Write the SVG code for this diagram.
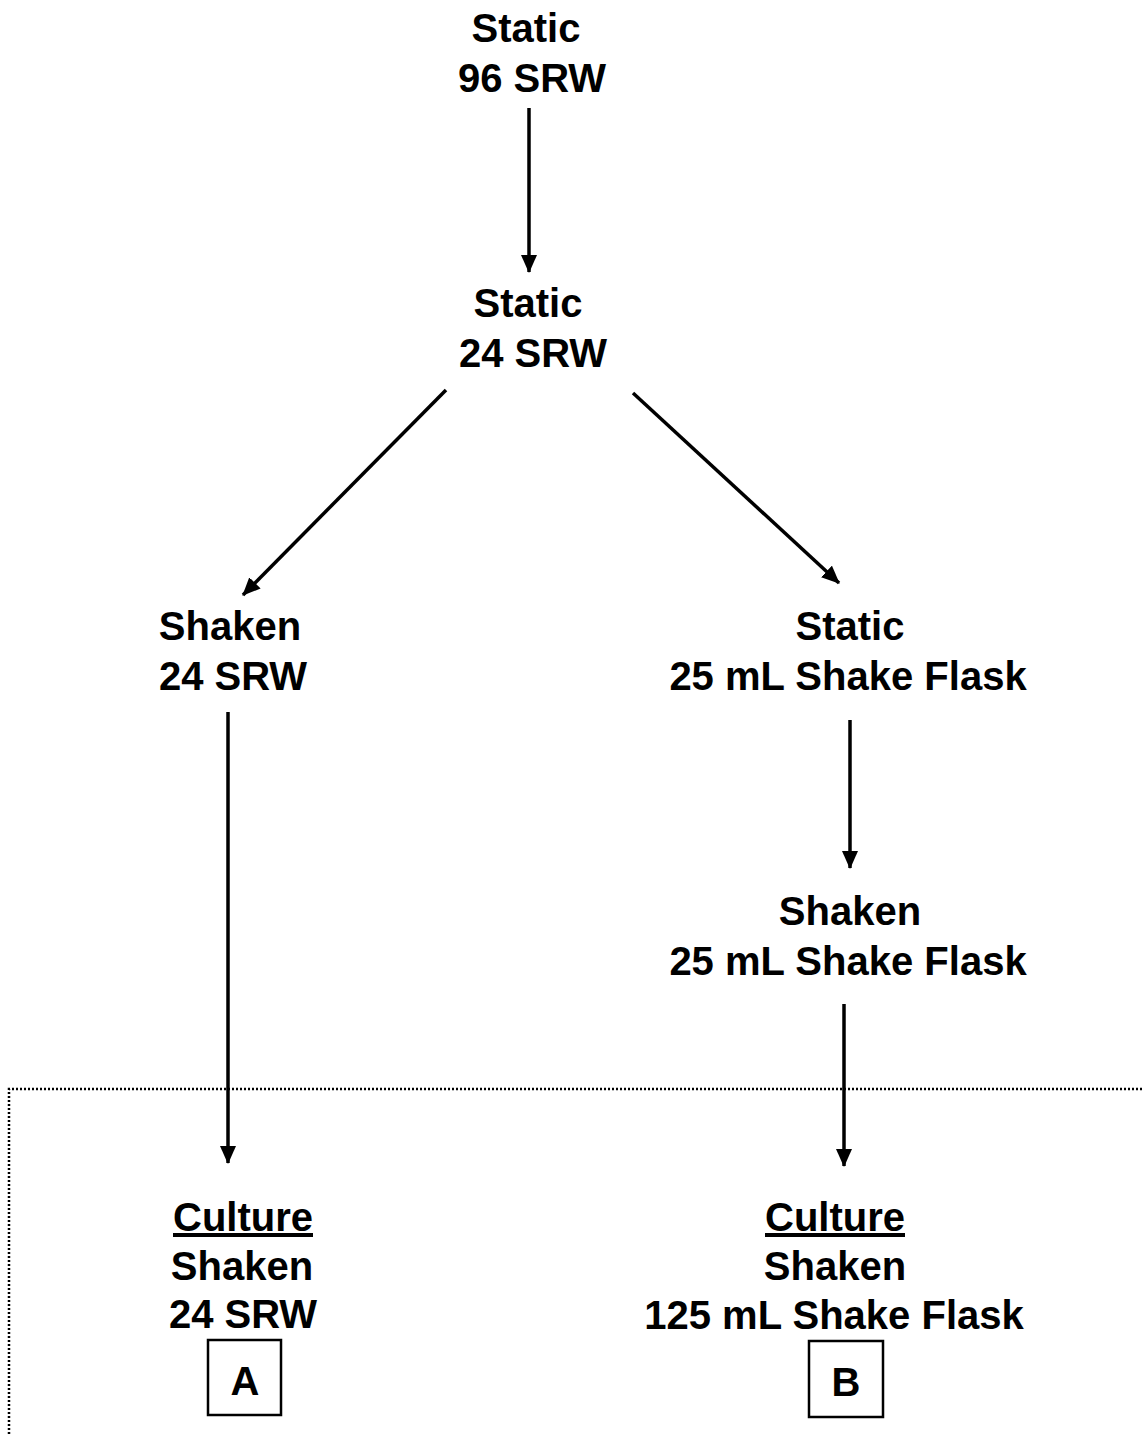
<svg xmlns="http://www.w3.org/2000/svg" width="1144" height="1434" viewBox="0 0 1144 1434">
  <defs>
    <marker id="arrow" markerWidth="18" markerHeight="16" refX="17" refY="8" orient="auto" markerUnits="userSpaceOnUse">
      <path d="M0,0 L18,8 L0,16 Z" fill="#000"/>
    </marker>
  </defs>
  <style>
    .lbl { font-family: "Liberation Sans", Arial, sans-serif; font-size: 40px; font-weight: bold; fill: #000; text-anchor: middle; }
    .u { text-decoration: underline; }
    .edge { stroke: #000; stroke-width: 3.5; fill: none; marker-end: url(#arrow); }
    .box { fill: none; stroke: #000; stroke-width: 2.5; }
    .region { fill: none; stroke: #000; stroke-width: 2.5; stroke-dasharray: 2 2; }
  </style>
  <rect width="1144" height="1434" fill="#fff"/>

  <!-- culture region outline (dotted) -->
  <path class="region" d="M9,1434 V1089 H1144"/>

  <g id="connectors">
    <line class="edge" x1="529" y1="108" x2="529" y2="272"/>
    <line class="edge" x1="446" y1="390" x2="243" y2="595"/>
    <line class="edge" x1="633" y1="393" x2="839" y2="583"/>
    <line class="edge" x1="228" y1="712" x2="228" y2="1163"/>
    <line class="edge" x1="850" y1="720" x2="850" y2="868"/>
    <line class="edge" x1="844" y1="1004" x2="844" y2="1166"/>
  </g>

  <g id="static-96">
    <text class="lbl" x="526" y="42">Static</text>
    <text class="lbl" x="532" y="92">96 SRW</text>
  </g>

  <g id="static-24">
    <text class="lbl" x="528" y="317">Static</text>
    <text class="lbl" x="533" y="367">24 SRW</text>
  </g>

  <g id="shaken-24">
    <text class="lbl" x="230" y="640">Shaken</text>
    <text class="lbl" x="233" y="690">24 SRW</text>
  </g>

  <g id="static-25flask">
    <text class="lbl" x="850" y="640">Static</text>
    <text class="lbl" x="848" y="690">25 mL Shake Flask</text>
  </g>

  <g id="shaken-25flask">
    <text class="lbl" x="850" y="925">Shaken</text>
    <text class="lbl" x="848" y="975">25 mL Shake Flask</text>
  </g>

  <g id="culture-a">
    <text class="lbl u" x="243" y="1231">Culture</text>
    <text class="lbl" x="242" y="1280">Shaken</text>
    <text class="lbl" x="243" y="1328">24 SRW</text>
    <rect class="box" x="208" y="1340" width="73" height="75"/>
    <text class="lbl" x="245" y="1395">A</text>
  </g>

  <g id="culture-b">
    <text class="lbl u" x="835" y="1231">Culture</text>
    <text class="lbl" x="835" y="1280">Shaken</text>
    <text class="lbl" x="834" y="1329">125 mL Shake Flask</text>
    <rect class="box" x="809" y="1341" width="74" height="76"/>
    <text class="lbl" x="846" y="1396">B</text>
  </g>
</svg>
